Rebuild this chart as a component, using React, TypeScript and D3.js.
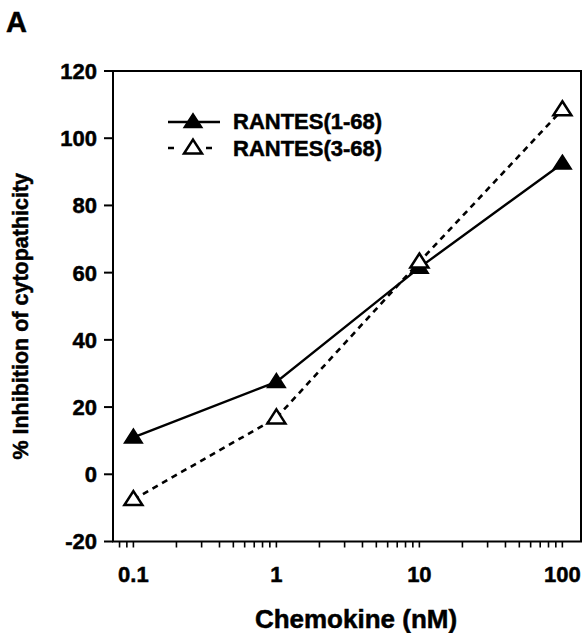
import React from 'react';
import * as d3 from 'd3';

// chemokine concentrations (nM)
const doses = [0.1, 1, 10, 100];
const rantes168 = [11, 27.5, 61.5, 92.5];
const rantes368 = [-7.5, 16.8, 63.2, 108.5];
const yTicks = [-20, 0, 20, 40, 60, 80, 100, 120];
const xTickLabels = ['0.1', '1', '10', '100'];
const seriesNames = ['RANTES(1-68)', 'RANTES(3-68)'];

const W = 585;
const H = 633;
const left = 113, right = 581, top = 71, bottom = 541.5;
const FONT = '"Liberation Sans", Arial, Helvetica, sans-serif';

const x = d3.scaleLog().domain([0.072, 135]).range([left, right]);
const y = d3.scaleLinear().domain([-20, 120]).range([bottom, top]);

// minor ticks 1..9 x 10^n that fall inside the domain
const minorTicks: number[] = [];
for (let e = -2; e <= 2; e++) {
  for (let k = 1; k <= 9; k++) {
    const v = k * Math.pow(10, e);
    if (v >= 0.075 && v <= 130) minorTicks.push(v);
  }
}

const triW = 18, triH = 14;
const tri = (cx: number, cy: number) =>
  `M${cx},${cy - triH * 0.6} L${cx + triW / 2},${cy + triH * 0.4} L${cx - triW / 2},${cy + triH * 0.4} Z`;

const line = d3.line<[number, number]>().x(d => x(d[0])).y(d => y(d[1]));

export default function App() {
  const s1 = doses.map((d, i) => [d, rantes168[i]] as [number, number]);
  const s2 = doses.map((d, i) => [d, rantes368[i]] as [number, number]);

  return (
    <svg width={W} height={H} style={{ position: 'absolute', left: 0, top: 0, background: '#fff' }}
      fontFamily={FONT} fontWeight="bold">
      <rect width={W} height={H} fill="#fff" />
      <g stroke="#000" strokeWidth={0.5}>
        <text x={6} y={32} fontSize={29}>A</text>

        {yTicks.map(t => (
          <text key={t} x={97} y={y(t)} dy="0.36em" textAnchor="end" fontSize={22}>{t}</text>
        ))}
        {doses.map((d, i) => (
          <text key={d} x={x(d)} y={582} textAnchor="middle" fontSize={22}>{xTickLabels[i]}</text>
        ))}

        <text x={356} y={628} textAnchor="middle" fontSize={26}>Chemokine (nM)</text>
        <text transform={`translate(28,${(top + bottom) / 2 + 10}) rotate(-90)`} textAnchor="middle" fontSize={21.5}>
          % Inhibition of cytopathicity
        </text>
        <text x={233} y={129} fontSize={22}>{seriesNames[0]}</text>
        <text x={233} y={156} fontSize={22}>{seriesNames[1]}</text>
      </g>

      {/* frame */}
      <rect x={left} y={top} width={right - left} height={bottom - top} fill="none" stroke="#000" strokeWidth={2} />

      {/* y axis ticks */}
      {yTicks.map(t => (
        <line key={t} x1={left - 9} x2={left} y1={y(t)} y2={y(t)} stroke="#000" strokeWidth={2} />
      ))}

      {/* x axis ticks */}
      {minorTicks.map(t => (
        <line key={t} x1={x(t)} x2={x(t)} y1={bottom} y2={bottom + 6} stroke="#000" strokeWidth={1.6} />
      ))}

      {/* series */}
      <path d={line(s2) || ''} fill="none" stroke="#000" strokeWidth={2.6} strokeDasharray="6,5" />
      <path d={line(s1) || ''} fill="none" stroke="#000" strokeWidth={2.4} />
      {s1.map(p => (
        <path key={'a' + p[0]} d={tri(x(p[0]), y(p[1]))} fill="#000" stroke="#000" strokeWidth={1.5} strokeLinejoin="miter" />
      ))}
      {s2.map(p => (
        <path key={'b' + p[0]} d={tri(x(p[0]), y(p[1]))} fill="#fff" stroke="#000" strokeWidth={2.5} strokeLinejoin="miter" />
      ))}

      {/* legend */}
      <g>
        <line x1={168} x2={220} y1={122} y2={122} stroke="#000" strokeWidth={2.4} />
        <path d={tri(193, 122)} fill="#000" stroke="#000" strokeWidth={1.5} />
        <line x1={168} x2={220} y1={148} y2={148} stroke="#000" strokeWidth={2.6} strokeDasharray="6,13" />
        <path d={tri(193, 148)} fill="#fff" stroke="#000" strokeWidth={2.5} />
      </g>
    </svg>
  );
}
